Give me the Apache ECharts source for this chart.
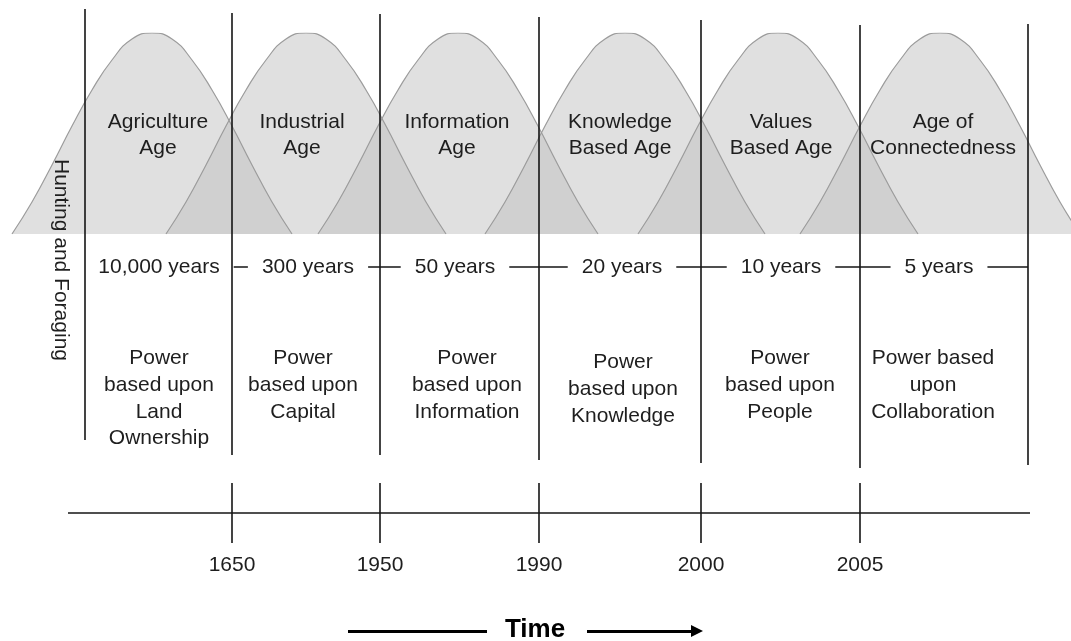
<!DOCTYPE html>
<html lang="en">
<head>
    <meta charset="UTF-8">
    <title>Ages of power</title>
    <style>
        html, body {margin: 0; padding: 0; background: #fff;}
    </style>
</head>
<body>
<div id="chart" style="width: 1071px;height: 641px"></div>
<script src="https://cdn.jsdelivr.net/npm/echarts@6/dist/echarts.min.js"></script>
<script>
    // era names and what power was based upon
    const eraNames = ['Agriculture\nAge', 'Industrial\nAge', 'Information\nAge', 'Knowledge\nBased Age', 'Values\nBased Age', 'Age of\nConnectedness']
    const durations = ['10,000 years', '300 years', '50 years', '20 years', '10 years', '5 years']
    const powerBases = [
        'Power\nbased upon\nLand\nOwnership',
        'Power\nbased upon\nCapital',
        'Power\nbased upon\nInformation',
        'Power\nbased upon\nKnowledge',
        'Power\nbased upon\nPeople',
        'Power based\nupon\nCollaboration'
    ]
    const yearLabels = ['1650', '1950', '1990', '2000', '2005']

    // positions along the time line (same units on every grid)
    const boundaryX = [85, 232, 380, 539, 701, 860, 1028]
    const boundaryTop = [9, 13, 14, 17, 20, 25, 24]
    const boundaryBottom = [440, 455, 455, 460, 463, 468, 465]
    const humpCenters = [152, 306, 458, 625, 778, 940]
    const eraLabelX = [158, 302, 457, 620, 781, 943]
    const durationX = [159, 308, 455, 622, 781, 939]
    const powerX = [159, 303, 467, 623, 780, 933]
    const powerTop = [345, 345, 345, 349, 345, 345]

    // one hump: [offset from centre, height]
    const humpProfile = [
        [-140, 0], [-120, 32], [-100, 69], [-80, 108], [-60, 144], [-40, 174], [-20, 195],
        [0, 201], [20, 195], [40, 174], [60, 144], [80, 108], [100, 69], [120, 32], [140, 0]
    ]

    const eraLabelTop = 109
    const durationY = 267
    const timelineY = 513
    const tickTop = 483
    const tickBottom = 543
    const yearY = 565
    const timelineLeft = 68
    const timelineRight = 1030
    const timeY = 631

    const font = "'Liberation Sans', Arial, sans-serif"
    const textColor = '#1e1e1e'

    const dom = document.getElementById('chart')
    const chart = echarts.init(dom)

    const humpSeries = humpCenters.map(c => ({
        type: 'line',
        xAxisIndex: 0,
        yAxisIndex: 0,
        smooth: true,
        symbol: 'none',
        silent: true,
        z: 1,
        lineStyle: {color: '#9c9c9c', width: 1.2},
        areaStyle: {color: 'rgb(191,191,191)', opacity: 0.48, origin: 'start'},
        data: humpProfile.map(p => [c + p[0], p[1]])
    }))

    // vertical era boundaries sit above the text, the rest below it
    const boundarySegments = boundaryX.map((x, i) => ({coords: [[x, boundaryTop[i]], [x, boundaryBottom[i]]]}))
    const segments = []
    segments.push({coords: [[boundaryX[1], durationY], [boundaryX[6], durationY]]})
    segments.push({coords: [[timelineLeft, timelineY], [timelineRight, timelineY]]})
    boundaryX.slice(1, 6).forEach(x => segments.push({coords: [[x, tickTop], [x, tickBottom]]}))

    const lineSeries = (data, style, z, extra) => Object.assign({
        type: 'lines',
        coordinateSystem: 'cartesian2d',
        xAxisIndex: 1,
        yAxisIndex: 1,
        silent: true,
        z: z,
        lineStyle: Object.assign({opacity: 1}, style),
        data: data
    }, extra || {})

    const textSeries = (data, label) => ({
        type: 'scatter',
        xAxisIndex: 1,
        yAxisIndex: 1,
        symbolSize: 0,
        silent: true,
        z: 5,
        itemStyle: {opacity: 1},
        data: data,
        label: Object.assign({
            show: true,
            formatter: p => p.name,
            color: textColor,
            fontFamily: font,
            fontSize: 21,
            position: 'inside'
        }, label)
    })

    chart.setOption({
        animation: false,
        grid: [
            {left: 0, right: 0, top: 33, height: 201},
            {left: 0, right: 0, top: 0, bottom: 0}
        ],
        xAxis: [
            {gridIndex: 0, type: 'value', min: 0, max: 1071, show: false},
            {gridIndex: 1, type: 'value', min: 0, max: 1071, show: false}
        ],
        yAxis: [
            {gridIndex: 0, type: 'value', min: 0, max: 201, show: false},
            {gridIndex: 1, type: 'value', min: 0, max: 641, inverse: true, show: false}
        ],
        series: [
            ...humpSeries,
            lineSeries(segments, {color: '#151515', width: 1.6}, 3),
            lineSeries(boundarySegments, {color: '#151515', width: 1.6}, 8),
            lineSeries([{coords: [[348, timeY], [487, timeY]]}], {color: '#000', width: 3}, 3),
            lineSeries([{coords: [[587, timeY], [697, timeY]]}], {color: '#000', width: 3}, 3, {
                symbol: ['none', 'triangle'],
                symbolSize: [0, 12],
                itemStyle: {color: '#000'}
            }),
            textSeries(eraNames.map((n, i) => ({name: n, value: [eraLabelX[i], eraLabelTop]})),
                {position: 'bottom', distance: 0, lineHeight: 26, align: 'center'}),
            textSeries(durations.map((n, i) => ({name: n, value: [durationX[i], durationY]})),
                {backgroundColor: '#fff', padding: [0, 14]}),
            textSeries(powerBases.map((n, i) => ({name: n, value: [powerX[i], powerTop[i]]})),
                {position: 'bottom', distance: 0, lineHeight: 26.7, align: 'center'}),
            textSeries(yearLabels.map((n, i) => ({name: n, value: [boundaryX[i + 1], yearY]})), {}),
            textSeries([{name: 'Hunting and Foraging', value: [61, 260]}], {rotate: -90}),
            textSeries([{name: 'Time', value: [535, timeY - 1]}], {fontSize: 26, fontWeight: 'bold', color: '#000'})
        ]
    })
    window.addEventListener('resize', () => {
        chart.resize()
    })
</script>
</body>
</html>
